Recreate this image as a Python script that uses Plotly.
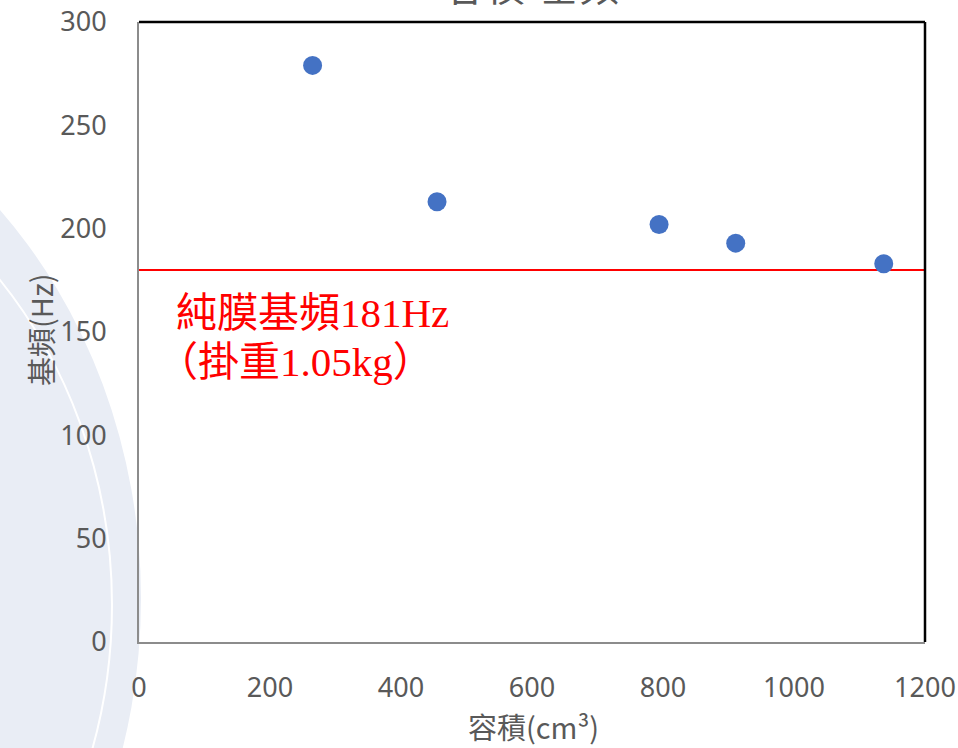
import plotly.graph_objects as go

# Data
volume_cm3 = [265, 455, 794, 911, 1137]
freq_hz = [279, 213, 202, 193, 183]
baseline_x = [0, 1200]
baseline_y = [180, 180]
x_ticks = [0, 200, 400, 600, 800, 1000, 1200]
y_ticks = [0, 50, 100, 150, 200, 250, 300]

W, H = 958, 748
L, R, T, B = 139, 33, 22, 106
PW, PH = W - L - R, H - T - B

def px(x):
    return (x - L) / PW

def py(y):
    return (H - B - y) / PH

tick_font = dict(family="Noto Sans, Noto Sans CJK TC", size=27, color="#595959")
title_font = dict(family="Noto Sans CJK TC, Noto Sans", size=29, color="#595959")
red_font = dict(family="Liberation Serif, Noto Sans CJK TC", size=41, color="#ff0000")

fig = go.Figure()
fig.add_trace(go.Scatter(
    x=baseline_x, y=baseline_y, mode="lines",
    line=dict(color="#ff0000", width=2), showlegend=False, hoverinfo="skip"))
fig.add_trace(go.Scatter(
    x=volume_cm3, y=freq_hz, mode="markers",
    marker=dict(color="#4472c4", size=19), showlegend=False))

shapes = [
    # faint watermark band on the left
    dict(type="circle", xref="paper", yref="paper", layer="below",
         x0=px(-860), x1=px(141), y0=py(1157), y1=py(40),
         fillcolor="#e9edf5", line=dict(width=0)),
    dict(type="circle", xref="paper", yref="paper", layer="below",
         x0=px(-800), x1=px(112), y0=py(1100), y1=py(110),
         fillcolor="rgba(0,0,0,0)", line=dict(color="#ffffff", width=2)),
    # frame: top and right black
    dict(type="line", xref="paper", yref="paper", x0=0, x1=1, y0=1, y1=1,
         line=dict(color="#000000", width=2.5)),
    dict(type="line", xref="paper", yref="paper", x0=1, x1=1, y0=0, y1=1,
         line=dict(color="#000000", width=2.5)),
]

annotations = [
    dict(text="容積-基頻", xref="paper", yref="paper", x=px(532), y=py(-16),
         xanchor="center", yanchor="middle", showarrow=False,
         font=dict(family="Noto Sans CJK TC", size=40, color="#595959")),
    dict(text="純膜基頻181Hz", xref="paper", yref="paper", x=px(174), y=py(313),
         xanchor="left", yanchor="middle", showarrow=False, font=red_font),
    dict(text="（掛重1.05kg）", xref="paper", yref="paper", x=px(155), y=py(362),
         xanchor="left", yanchor="middle", showarrow=False, font=red_font),
    dict(text="容積(cm³)", xref="paper", yref="paper", x=px(533), y=py(726),
         xanchor="center", yanchor="middle", showarrow=False, font=title_font),
    dict(text="基頻(Hz)", xref="paper", yref="paper", x=px(40), y=py(330),
         xanchor="center", yanchor="middle", showarrow=False, font=title_font,
         textangle=-90),
]

fig.update_layout(
    width=W, height=H,
    margin=dict(l=L, r=R, t=T, b=B),
    paper_bgcolor="#ffffff", plot_bgcolor="rgba(0,0,0,0)",
    shapes=shapes, annotations=annotations,
    xaxis=dict(range=[0, 1200], tickvals=x_ticks, showgrid=False, zeroline=False,
               showline=True, linecolor="#8c8c8c", linewidth=2, automargin=False,
               ticks="outside", ticklen=21, tickcolor="rgba(0,0,0,0)",
               tickfont=tick_font),
    yaxis=dict(range=[0, 300], tickvals=y_ticks, showgrid=False, zeroline=False,
               showline=True, linecolor="#8c8c8c", linewidth=2, automargin=False,
               ticks="outside", ticklen=25, tickcolor="rgba(0,0,0,0)",
               tickfont=tick_font),
)

fig.write_html("out.html", config={"displayModeBar": False},
               post_script="document.body.style.margin='0';document.body.style.overflow='hidden';")
